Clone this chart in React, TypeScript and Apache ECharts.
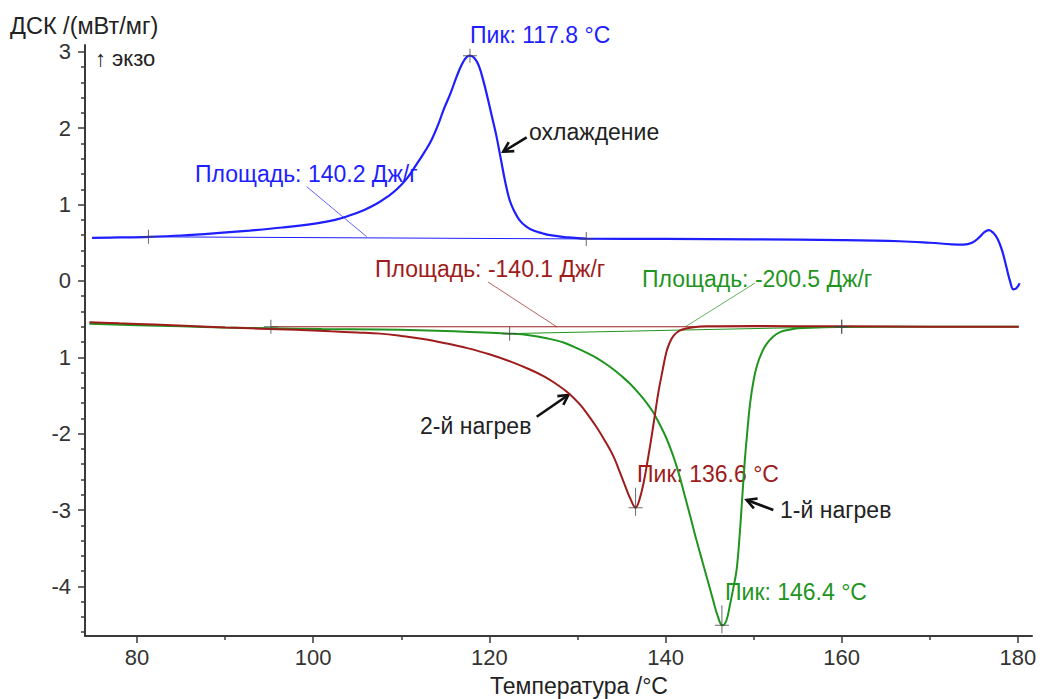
import React, { useEffect, useRef } from "react";
import * as echarts from "echarts";

// ---- data (temperature °C, DSC mW/mg) ----
const coolingT = [74.9, 78, 81.3, 85, 89, 92.8, 96.5, 100.4, 102.5, 104.2, 105.8, 107.2, 108.4, 109.5, 110.7, 111.75, 112.6, 113.45, 114.2, 114.8, 115.6, 116.3, 116.9, 117.4, 117.8, 118.3, 118.8, 119.3, 119.8, 120.3, 120.8, 121.3, 121.8, 122.3, 122.8, 123.4, 124.2, 125.0, 126, 126.9, 128.5, 131, 140, 150, 160, 166.6, 170, 172.5, 173.8, 174.8, 175.6, 176.2, 176.7, 177.2, 177.7, 178.2, 178.7, 179.1, 179.5, 179.8, 180.2];
const coolingDSC = [0.565, 0.57, 0.578, 0.595, 0.625, 0.66, 0.7, 0.755, 0.8, 0.86, 0.93, 1.01, 1.1, 1.2, 1.35, 1.53, 1.68, 1.85, 2.05, 2.24, 2.46, 2.68, 2.84, 2.93, 2.95, 2.92, 2.82, 2.63, 2.4, 2.15, 1.9, 1.6, 1.3, 1.06, 0.92, 0.8, 0.71, 0.66, 0.625, 0.6, 0.575, 0.555, 0.55, 0.545, 0.535, 0.52, 0.5, 0.48, 0.475, 0.5, 0.57, 0.64, 0.665, 0.63, 0.55, 0.4, 0.18, 0.0, -0.11, -0.1, -0.03];

const heat2T = [74.6, 78, 82, 86, 90, 94, 98, 102, 105, 107.6, 110, 112.5, 115.2, 117.5, 120, 122.5, 124.6, 126.2, 127.6, 129, 130.3, 131.3, 132.2, 133.2, 134.1, 134.8, 135.5, 136.0, 136.6, 137.0, 137.5, 138.0, 138.4, 138.8, 139.2, 139.7, 140.1, 140.5, 140.9, 141.4, 142.0, 143, 144.7, 150, 160, 170, 180.1];
const heat2DSC = [-0.54, -0.555, -0.57, -0.59, -0.61, -0.625, -0.64, -0.66, -0.675, -0.69, -0.72, -0.76, -0.82, -0.88, -0.96, -1.06, -1.16, -1.25, -1.35, -1.47, -1.62, -1.77, -1.92, -2.11, -2.3, -2.5, -2.71, -2.85, -2.97, -2.88, -2.65, -2.33, -2.05, -1.75, -1.45, -1.15, -0.93, -0.8, -0.72, -0.665, -0.633, -0.61, -0.595, -0.59, -0.595, -0.6, -0.6];

const heat1T = [74.6, 80, 85, 90, 95.2, 101, 107.6, 112, 116, 119.5, 122.3, 124.5, 126.5, 128.5, 130.3, 131.3, 132.2, 133.2, 134.1, 135.0, 136.0, 137.1, 138.0, 138.6, 139.3, 140.1, 140.9, 141.5, 142.2, 142.8, 143.5, 144.2, 144.8, 145.4, 145.9, 146.45, 146.9, 147.3, 147.7, 148.07, 148.4, 148.7, 149.0, 149.3, 149.6, 150.0, 150.4, 151.0, 151.5, 152.2, 153.0, 154.0, 155, 158, 165, 180.1];
const heat1DSC = [-0.56, -0.58, -0.595, -0.61, -0.62, -0.63, -0.635, -0.645, -0.66, -0.675, -0.69, -0.71, -0.75, -0.81, -0.9, -0.955, -1.01, -1.085, -1.16, -1.245, -1.35, -1.49, -1.62, -1.72, -1.87, -2.06, -2.3, -2.52, -2.82, -3.08, -3.39, -3.68, -3.93, -4.18, -4.38, -4.51, -4.45, -4.25, -4.02, -3.78, -3.35, -2.85, -2.35, -1.95, -1.6, -1.3, -1.1, -0.92, -0.82, -0.73, -0.67, -0.64, -0.62, -0.605, -0.6, -0.6];

// integration baselines (start / end)
const coolBaseT = [81.3, 131];
const coolBaseDSC = [0.578, 0.55];
const heat2BaseT = [95.2, 160];
const heat2BaseDSC = [-0.6, -0.6];
const heat1BaseT = [122.3, 160];
const heat1BaseDSC = [-0.69, -0.6];

// peaks
const coolPeakT = [117.8];
const coolPeakDSC = [2.95];
const heatPeakT = [136.6, 146.4];
const heatPeakDSC = [-2.97, -4.51];

// axes
const xMajorTicks = [80, 100, 120, 140, 160, 180];
const xMinorTicks = [90, 110, 130, 150, 170];
const yMajorTicks = [3, 2, 1, 0, -1, -2, -3, -4];
const yTickLabels = ["3", "2", "1", "0", "1", "-2", "-3", "-4"];

const BLUE = "#1e1eff";
const RED = "#9e1c1c";
const GREEN = "#1f951f";
const FONT = '"Liberation Sans", Arial, sans-serif';

const zip = (xs: number[], ys: number[]) => xs.map((x, i) => [x, ys[i]]);

const PLUS = "path://M6.5,0H7.5V6.5H14V7.5H7.5V14H6.5V7.5H0V6.5H6.5Z";
const TALL_PLUS = "path://M6.5,0H7.5V19.5H14V20.5H7.5V28H6.5V20.5H0V19.5H6.5Z";

function arrow(tx: number, ty: number, hx: number, hy: number) {
  const a = Math.atan2(hy - ty, hx - tx);
  const L = 11, s = 0.5;
  const w1 = [hx - L * Math.cos(a - s), hy - L * Math.sin(a - s)];
  const w2 = [hx - L * Math.cos(a + s), hy - L * Math.sin(a + s)];
  return [
    { type: "line", shape: { x1: tx, y1: ty, x2: hx, y2: hy }, style: { stroke: "#111", lineWidth: 2.6 } },
    { type: "polyline", shape: { points: [w1, [hx, hy], w2] }, style: { stroke: "#111", lineWidth: 2.6, fill: null } },
  ];
}

function label(text: string, x: number, y: number, color: string, size = 23) {
  return {
    type: "text",
    x,
    y,
    style: { text, fill: color, font: `${size}px ${FONT}`, align: "left", verticalAlign: "middle" },
  };
}

function pointer(x1: number, y1: number, x2: number, y2: number, color: string) {
  return { type: "line", shape: { x1, y1, x2, y2 }, style: { stroke: color, lineWidth: 1, opacity: 0.7 } };
}

export default function App() {
  const ref = useRef<HTMLDivElement>(null);
  useEffect(() => {
    if (!ref.current) return;
    const chart = echarts.init(ref.current, null, { renderer: "svg" });
    const minorY: number[] = [];
    for (let v = -46; v <= 30; v += 2) {
      if (v % 10 !== 0) minorY.push(v / 10);
    }
    const lineSeries = (data: number[][], color: string, width: number, smooth: boolean | number) => ({
      type: "line",
      data,
      showSymbol: false,
      smooth,
      lineStyle: { color, width },
      itemStyle: { color },
      silent: true,
    });
    const tickStyle = { color: "#3a3a3a", width: 1.5 };
    const option: any = {
      animation: false,
      grid: { left: 85, right: 10, top: 45, bottom: 63, containLabel: false, outerBoundsMode: "none" },
      xAxis: [
        {
          type: "value",
          min: 74.1,
          max: 181.6,
          position: "bottom",
          axisLine: { show: true, onZero: false, lineStyle: { color: "#3a3a3a", width: 2 } },
          axisTick: { show: true, customValues: xMajorTicks, length: 7, lineStyle: tickStyle },
          axisLabel: { customValues: xMajorTicks, fontSize: 22, fontFamily: FONT, color: "#333", margin: 10 },
          splitLine: { show: false },
        },
        {
          type: "value",
          min: 74.1,
          max: 181.6,
          position: "bottom",
          axisLine: { show: false, onZero: false },
          axisTick: { show: true, customValues: xMinorTicks, length: 4, lineStyle: tickStyle },
          axisLabel: { show: false },
          splitLine: { show: false },
        },
      ],
      yAxis: [
        {
          type: "value",
          min: -4.65,
          max: 3.09,
          position: "left",
          axisLine: { show: true, onZero: false, lineStyle: { color: "#3a3a3a", width: 2 } },
          axisTick: { show: true, customValues: yMajorTicks, length: 7, lineStyle: tickStyle },
          axisLabel: {
            customValues: yMajorTicks,
            formatter: (v: number) => {
              const i = yMajorTicks.findIndex((t) => Math.abs(t - v) < 1e-6);
              return i >= 0 ? yTickLabels[i] : "";
            },
            fontSize: 22,
            fontFamily: FONT,
            color: "#333",
            margin: 14,
          },
          splitLine: { show: false },
        },
        {
          type: "value",
          min: -4.65,
          max: 3.09,
          position: "left",
          axisLine: { show: false, onZero: false },
          axisTick: { show: true, customValues: minorY, length: 4, lineStyle: tickStyle },
          axisLabel: { show: false },
          splitLine: { show: false },
        },
      ],
      series: [
        lineSeries(zip(coolBaseT, coolBaseDSC), BLUE, 1, false),
        lineSeries(zip(heat2BaseT, heat2BaseDSC), RED, 1, false),
        lineSeries(zip(heat1BaseT, heat1BaseDSC), GREEN, 1, false),
        lineSeries(zip(heat1T, heat1DSC), GREEN, 2, 0.4),
        lineSeries(zip(heat2T, heat2DSC), RED, 2, 0.4),
        lineSeries(zip(coolingT, coolingDSC), BLUE, 2.2, 0.4),
        {
          type: "scatter",
          data: [...zip(coolBaseT, coolBaseDSC), ...zip(heat2BaseT, heat2BaseDSC), ...zip(heat1BaseT, heat1BaseDSC), ...zip(coolPeakT, coolPeakDSC)],
          symbol: PLUS,
          symbolSize: 14,
          itemStyle: { color: "#444" },
          silent: true,
          z: 5,
        },
        {
          type: "scatter",
          data: zip(heatPeakT, heatPeakDSC),
          symbol: TALL_PLUS,
          symbolSize: [14, 28],
          symbolOffset: [0, -6],
          itemStyle: { color: "#444" },
          silent: true,
          z: 5,
        },
      ],
      graphic: [
        label("ДСК /(мВт/мг)", 10, 26, "#222", 23.5),
        {
          type: "text",
          x: 579,
          y: 686,
          style: { text: "Температура /°C", fill: "#222", font: `23px ${FONT}`, align: "center", verticalAlign: "middle" },
        },
        label("↑ экзо", 95, 58, "#222", 22),
        label("Пик: 117.8 °C", 470, 35, BLUE),
        label("охлаждение", 529, 132, "#222"),
        label("Площадь: 140.2 Дж/г", 195, 174, BLUE),
        label("Площадь: -140.1 Дж/г", 375, 269, RED),
        label("Площадь: -200.5 Дж/г", 642, 279, GREEN),
        label("2-й нагрев", 420, 426, "#222"),
        label("Пик: 136.6 °C", 637, 474, RED),
        label("1-й нагрев", 780, 510, "#222"),
        label("Пик: 146.4 °C", 725, 592, GREEN),
        pointer(306.7, 186.7, 366.7, 236.7, BLUE),
        pointer(488, 282, 557, 327, RED),
        pointer(755, 283, 685, 327, GREEN),
        ...arrow(526.7, 137.3, 503.3, 151.7),
        ...arrow(536.7, 416.7, 568.3, 395),
        ...arrow(773.3, 510, 746.7, 500),
      ],
    };
    chart.setOption(option);
    return () => chart.dispose();
  }, []);
  return (
    <div
      ref={ref}
      style={{ position: "fixed", left: 0, top: 0, width: 1042, height: 699, background: "#fff" }}
    />
  );
}
